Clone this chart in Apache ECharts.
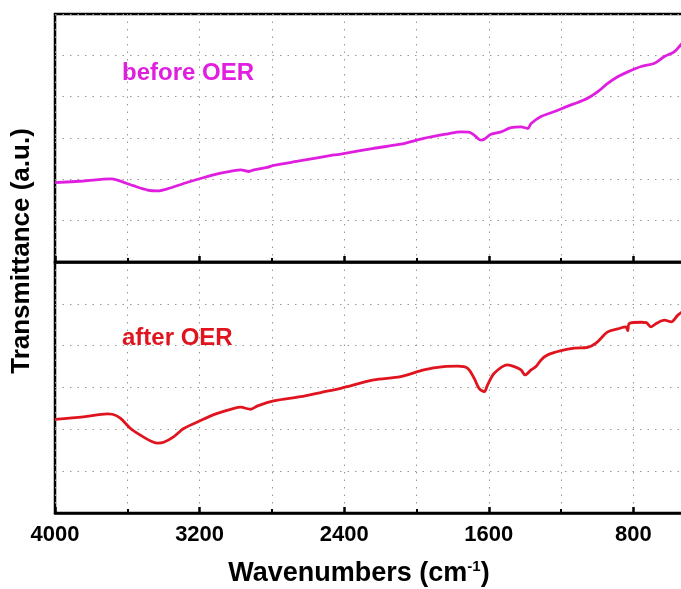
<!DOCTYPE html>
<html>
<head>
<meta charset="utf-8">
<script src="https://cdn.jsdelivr.net/npm/echarts@6/dist/echarts.min.js"></script>
<style>html,body{margin:0;padding:0;background:#fff}#c{width:681px;height:589px}</style>
</head>
<body>
<div id="c"></div>
<script>
var xTickLabels = ['4000','3200','2400','1600','800'];

var beforeWn = [4000,3843,3693,3655,3563,3488,3433,3378,3288,3195,3102,3010,2973,2927,2899,2825,2790,2641,2457,2419,2237,2088,1960,1827,1755,1710,1681,1643,1625,1588,1533,1477,1422,1384,1366,1311,1237,1163,1108,1053,997,942,887,831,757,683,628,573,530,480];
var beforeVal = [1.92,1.96,2.01,1.98,1.84,1.74,1.72,1.77,1.90,2.02,2.13,2.21,2.23,2.19,2.23,2.29,2.34,2.45,2.59,2.61,2.75,2.85,2.99,3.10,3.15,3.14,3.07,2.95,2.97,3.09,3.15,3.25,3.27,3.23,3.35,3.52,3.64,3.77,3.86,3.96,4.12,4.32,4.48,4.60,4.73,4.81,4.97,5.09,5.29,5.45];

var afterWn = [4000,3843,3710,3682,3637,3582,3527,3471,3433,3399,3344,3288,3195,3102,3010,2973,2918,2879,2790,2641,2530,2419,2237,2088,1960,1849,1773,1717,1681,1654,1625,1607,1570,1496,1459,1422,1399,1366,1339,1311,1274,1200,1126,1053,1007,942,887,842,831,823,757,729,702,674,628,591,554,530,480];
var afterVal = [2.24,2.30,2.37,2.36,2.26,2.02,1.86,1.72,1.67,1.69,1.82,2.02,2.21,2.38,2.50,2.53,2.48,2.56,2.68,2.78,2.88,2.98,3.18,3.26,3.42,3.50,3.51,3.46,3.22,2.98,2.90,3.06,3.34,3.54,3.50,3.42,3.30,3.42,3.50,3.66,3.78,3.88,3.94,3.96,4.06,4.33,4.40,4.45,4.36,4.53,4.56,4.55,4.45,4.53,4.61,4.57,4.73,4.81,4.95];

function zip(a,b){return a.map(function(v,i){return [v,b[i]];});}

var chart = echarts.init(document.getElementById('c'), null, {renderer:'canvas'});
var dotted = {show:true, lineStyle:{color:'#999', width:1, type:[1.5,6]}};
var FONT = '"Liberation Sans", Arial, sans-serif';

function xAx(grid, labels){
  return {
    gridIndex:grid, type:'value', min:0, max:4000, interval:800, inverse:true,
    axisLine:{show:true, onZero:false, lineStyle:{color:'#000', width:2.5}},
    axisTick:{show:true, inside:true, length:6, lineStyle:{color:'#000', width:2.5}},
    minorTick:{show:true, splitNumber:2, length:4, lineStyle:{color:'#000', width:2}},
    splitLine:dotted, minorSplitLine:dotted,
    axisLabel:{show:labels, color:'#000', fontFamily:FONT, fontWeight:'bold', fontSize:22, margin:11,
      formatter:function(v){ var s=String(v); return xTickLabels.indexOf(s)>=0 ? s : ''; }}
  };
}
function yAx(grid){
  return {
    gridIndex:grid, type:'value', min:0, max:6, interval:1,
    axisLine:{show:true, lineStyle:{color:'#000', width:2.5}},
    axisTick:{show:false}, axisLabel:{show:false},
    splitLine:dotted
  };
}

chart.setOption({
  animation:false,
  grid:[
    {left:55, width:723, top:14, height:248, show:true, borderColor:'#000', borderWidth:2.5, outerBoundsMode:'none', containLabel:false},
    {left:55, width:723, top:262, height:251, show:true, borderColor:'#000', borderWidth:2.5, outerBoundsMode:'none', containLabel:false}
  ],
  xAxis:[xAx(0,false), xAx(1,true)],
  yAxis:[yAx(0), yAx(1)],
  series:[
    {type:'line', xAxisIndex:0, yAxisIndex:0, data:zip(beforeWn,beforeVal), showSymbol:false, smooth:0.3,
      lineStyle:{color:'#E01EE0', width:2.8}},
    {type:'line', xAxisIndex:1, yAxisIndex:1, data:zip(afterWn,afterVal), showSymbol:false, smooth:0.3,
      lineStyle:{color:'#E0141E', width:2.8}}
  ],
  graphic:[
    {type:'text', left:122, top:61, style:{text:'before OER', fill:'#E01EE0', font:'bold 24px '+FONT}},
    {type:'text', left:122, top:326, style:{text:'after OER', fill:'#E0141E', font:'bold 24px '+FONT}},
    {type:'text', x:22, y:251, rotation:Math.PI/2,
      style:{text:'Transmittance (a.u.)', fill:'#000', font:'bold 26px '+FONT, textAlign:'center', textVerticalAlign:'middle'}},
    {type:'text', x:359, y:574,
      style:{text:'{t|Wavenumbers (cm}{s|-1}{t|)}', textAlign:'center', textVerticalAlign:'middle',
        rich:{t:{font:'bold 27px '+FONT, fill:'#000'}, s:{font:'bold 15px '+FONT, fill:'#000', padding:[0,0,14,0]}}}}
  ]
});
</script>
</body>
</html>
